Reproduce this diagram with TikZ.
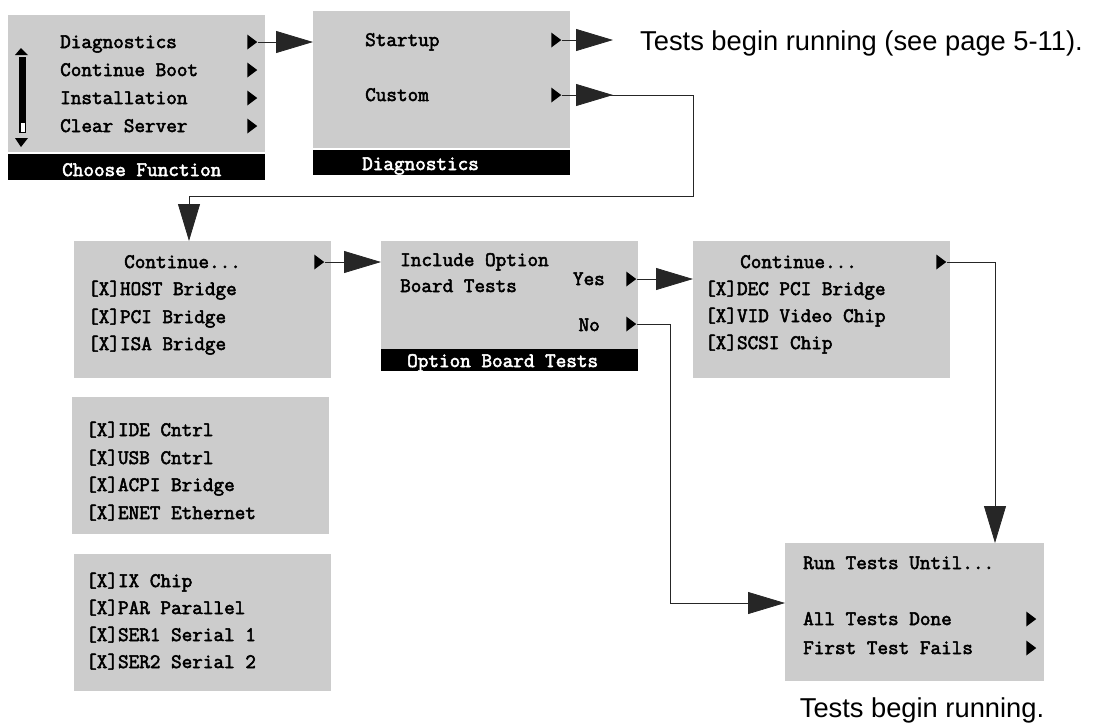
\documentclass[tikz,border=0pt]{standalone}
\usepackage{fontspec}
\setmainfont{Liberation Sans}
\newfontfamily\menumono{Latin Modern Mono}[FakeBold=2.6]
\usetikzlibrary{arrows.meta,shapes.geometric}

\definecolor{menugray}{RGB}{204,204,204}
\newcommand{\menufont}{\fontsize{20.6}{22}\selectfont\menumono}
\newcommand{\notefont}{\fontsize{27.3}{30}\selectfont\rmfamily}

\tikzset{
  menu/.style={fill=menugray, anchor=north west, inner sep=0pt,
    minimum width=257pt, minimum height=137pt},
  titlebar/.style={fill=black, anchor=north west, inner sep=0pt, minimum width=257pt},
  entry/.style={font=\menufont, anchor=base west, inner sep=0pt},
  pointer/.style={isosceles triangle, isosceles triangle stretches, fill=black,
    inner sep=0pt, minimum width=15pt, minimum height=10pt},
  flow/.style={draw=black!85, line width=0.8pt, -{Triangle[length=37pt,width=22pt]}},
  note/.style={font=\notefont, inner sep=0pt}
}

\begin{document}
\begin{tikzpicture}[x=1pt,y=-1pt]
\useasboundingbox (0,0) rectangle (1098,724);

% Choose Function
\node[menu] (choose) at (8,15) {};
\node[titlebar, minimum height=26pt] (chooseBar) at (8,154) {};
\node[entry, text=white] (chooseTitle) at (62,176) {Choose Function};
\foreach \txt/\y [count=\i] in {Diagnostics/48, Continue Boot/76, Installation/104, Clear Server/132}
{
	\node[entry] (fn\i) at (60,\y) {\txt};
	\node[pointer] (fnp\i) at (251,\y-6) {};
}
% scroll bar
\fill (21,48) -- (15,55) -- (28,55) -- cycle;
\fill (19,57) rectangle (26,133);
\fill[white] (20.5,123) rectangle (24.5,132);
\fill (15,138) -- (28,138) -- (21,147) -- cycle;

% Diagnostics
\node[menu] (diag) at (313,11) {};
\node[titlebar, minimum height=25pt] (diagBar) at (313,150) {};
\node[entry, text=white] (diagTitle) at (362,170) {Diagnostics};
\node[entry] (startup) at (365,46) {Startup};
\node[entry] (custom) at (365,101) {Custom};
\node[pointer] (startupp) at (555,40) {};
\node[pointer] (customp) at (555,95) {};
\node[note, anchor=base west] (note1) at (640,50) {Tests begin running (see page 5-11).};

% first test list
\node[menu] (list1) at (74,241) {};
\node[entry] (cont1) at (124,268) {Continue...};
\foreach \txt/\y in {[X]HOST Bridge/295, [X]PCI Bridge/323, [X]ISA Bridge/350}
	\node[entry] at (88,\y) {\txt};
\node[pointer] (cont1p) at (318,262) {};

\node[menu] (list2) at (72,397) {};
\foreach \txt/\y in {[X]IDE Cntrl/436, [X]USB Cntrl/464, [X]ACPI Bridge/491, [X]ENET Ethernet/519}
	\node[entry] at (86,\y) {\txt};

\node[menu] (list3) at (74,554) {};
\foreach \txt/\y in {[X]IX Chip/587, [X]PAR Parallel/614, [X]SER1 Serial 1/641, [X]SER2 Serial 2/668}
	\node[entry] at (86,\y) {\txt};

% Option Board Tests
\node[menu, minimum height=108pt] (opt) at (381,241) {};
\node[titlebar, minimum height=22pt] (optBar) at (381,349) {};
\node[entry, text=white] (optTitle) at (407,367) {Option Board Tests};
\node[entry] (incl) at (400,266) {Include Option};
\node[entry] (board) at (400,292) {Board Tests};
\node[entry, anchor=base east] (yes) at (605,285) {Yes};
\node[entry, anchor=base east] (no) at (600,331) {No};
\node[pointer] (yesp) at (630,279) {};
\node[pointer] (nop) at (630,324) {};

% second Continue... list
\node[menu] (list4) at (693,241) {};
\node[entry] (cont2) at (740,268) {Continue...};
\foreach \txt/\y in {[X]DEC PCI Bridge/295, [X]VID Video Chip/322, [X]SCSI Chip/349}
	\node[entry] at (705,\y) {\txt};
\node[pointer] (cont2p) at (940,262) {};

% Run Tests Until...
\node[menu, minimum width=259pt, minimum height=138pt] (run) at (785,543) {};
\node[entry] (until) at (803,569) {Run Tests Until...};
\node[entry] (alldone) at (803,625) {All Tests Done};
\node[entry] (firstfail) at (803,654) {First Test Fails};
\node[pointer] (alldonep) at (1030,619) {};
\node[pointer] (firstfailp) at (1030,648) {};
\node[note, anchor=base] (note2) at (922,717) {Tests begin running.};

% connectors
\coordinate (customTip) at (613,95);
\coordinate (customTurn) at (693,196);
\coordinate (list1In) at (189,241);
\coordinate (noTurn) at (670,603);
\coordinate (runIn) at (995,543);

\draw[flow] (fnp1.apex) -- (fnp1.apex -| diag.west);
\draw[flow, shorten >=27pt] (startupp.apex) -- (startupp.apex -| note1.west);
\draw[flow] (customp.apex) -- (customTip);
\draw[flow] (customp.apex) -| (customTurn) -| (list1In);
\draw[flow] (cont1p.apex) -- (cont1p.apex -| opt.west);
\draw[flow] (yesp.apex) -- (yesp.apex -| list4.west);
\draw[flow] (nop.apex) -| (noTurn) -- (noTurn -| run.west);
\draw[flow] (cont2p.apex) -| (runIn);
\end{tikzpicture}
\end{document}
